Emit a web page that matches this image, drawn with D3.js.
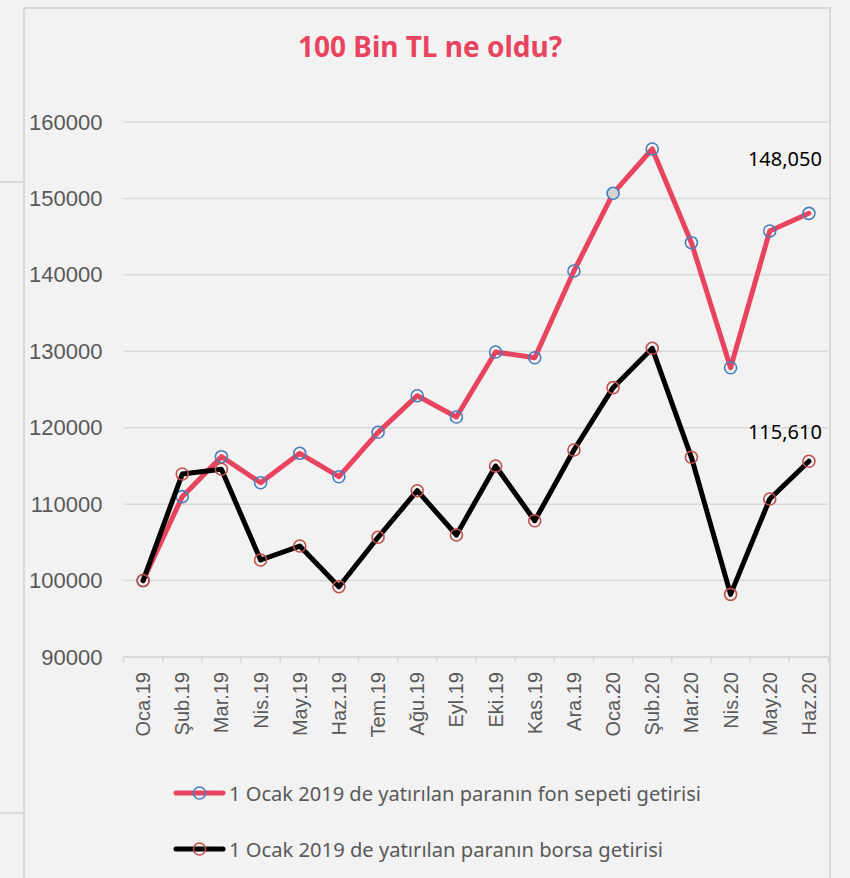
<!DOCTYPE html>
<html>
<head>
<meta charset="utf-8">
<script src="https://cdn.jsdelivr.net/npm/d3@7"></script>
<style>
  body { margin: 0; background: #f2f2f2; }
  svg { display: block; }
</style>
</head>
<body>
<svg id="chart" width="850" height="878"></svg>
<script>
// aylar (x ekseni)
var months = ["Oca.19", "Şub.19", "Mar.19", "Nis.19", "May.19", "Haz.19", "Tem.19", "Ağu.19", "Eyl.19",
              "Eki.19", "Kas.19", "Ara.19", "Oca.20", "Şub.20", "Mar.20", "Nis.20", "May.20", "Haz.20"];
// fon sepeti getirisi
var fundValues = [100000, 110980, 116210, 112800, 116650, 113590, 119400, 124190, 121400,
                  129900, 129160, 140500, 150670, 156470, 144210, 127850, 145740, 148050];
// borsa getirisi
var stockValues = [100000, 113940, 114560, 102690, 104520, 99200, 105660, 111760, 105960,
                   114990, 107830, 117080, 125240, 130390, 116130, 98200, 110670, 115610];
var yTicks = [90000, 100000, 110000, 120000, 130000, 140000, 150000, 160000];
var seriesNames = ["1 Ocak 2019 de yatırılan paranın fon sepeti getirisi",
                   "1 Ocak 2019 de yatırılan paranın borsa getirisi"];
var endLabels = ["148,050", "115,610"];

//sabitler
var plotLeft = 123.5, plotRight = 828.5, plotTop = 122, plotBottom = 657;
var pink = "#e8445f";

var svg = d3.select("#chart");

// dış çizgiler (tablo hücreleri)
svg.append("line").attr("x1", 0).attr("x2", 23).attr("y1", 182).attr("y2", 182)
    .attr("stroke", "#d9d9d9").attr("stroke-width", 2);
svg.append("line").attr("x1", 0).attr("x2", 23).attr("y1", 813).attr("y2", 813)
    .attr("stroke", "#d9d9d9").attr("stroke-width", 2);

// grafik çerçevesi
svg.append("rect")
    .attr("x", 24).attr("y", 8).attr("width", 806).attr("height", 900)
    .attr("fill", "#f2f2f2").attr("stroke", "#d9d9d9").attr("stroke-width", 2);

var x = d3.scaleBand().domain(months).range([plotLeft, plotRight]);
var y = d3.scaleLinear().domain([90000, 160000]).range([plotBottom, plotTop]);

// yatay ızgara
svg.append("g").selectAll("line").data(yTicks.slice(1)).enter().append("line")
    .attr("x1", plotLeft).attr("x2", plotRight)
    .attr("y1", function(d) { return y(d); })
    .attr("y2", function(d) { return y(d); })
    .attr("stroke", "#d9d9d9").attr("stroke-width", 1.5);

// y ekseni
var yAxis = svg.append("g")
    .attr("transform", "translate(" + (plotLeft - 21) + ",0)")
    .call(d3.axisLeft(y).tickValues(yTicks).tickSize(0).tickPadding(0).tickFormat(d3.format("d")));
yAxis.select(".domain").remove();
yAxis.selectAll("text")
    .attr("font-family", "Liberation Sans, Arial, sans-serif")
    .attr("font-size", "22px")
    .attr("fill", "#595959");

// x ekseni
svg.append("line").attr("x1", plotLeft).attr("x2", plotRight).attr("y1", plotBottom).attr("y2", plotBottom)
    .attr("stroke", "#d9d9d9").attr("stroke-width", 2);
var edges = months.map(function(m) { return x(m); }).concat([plotRight]);
svg.append("g").selectAll("line").data(edges).enter().append("line")
    .attr("x1", function(d) { return d; }).attr("x2", function(d) { return d; })
    .attr("y1", plotBottom).attr("y2", plotBottom + 6)
    .attr("stroke", "#d9d9d9").attr("stroke-width", 1.5);
svg.append("g").selectAll("text").data(months).enter().append("text")
    .attr("transform", function(d) {
        return "translate(" + (x(d) + x.bandwidth() / 2 + 7) + "," + (plotBottom + 15) + ") rotate(-90)";
    })
    .attr("text-anchor", "end")
    .attr("font-family", "Liberation Sans, Arial, sans-serif")
    .attr("font-size", "20px")
    .attr("fill", "#595959")
    .text(function(d) { return d; });

// başlık
svg.append("text")
    .attr("x", 430).attr("y", 57)
    .attr("text-anchor", "middle")
    .attr("font-family", "Noto Sans, sans-serif")
    .attr("font-weight", "bold")
    .attr("font-size", "29px")
    .attr("textLength", 264).attr("lengthAdjust", "spacingAndGlyphs")
    .attr("fill", pink)
    .text("100 Bin TL ne oldu?");

var cx = function(d, i) { return x(months[i]) + x.bandwidth() / 2; };
var line = d3.line().x(cx).y(function(d) { return y(d); });

function drawSeries(values, color, markerColor) {
    var g = svg.append("g");
    g.append("path").datum(values)
        .attr("d", line)
        .attr("fill", "none")
        .attr("stroke", color)
        .attr("stroke-width", 5)
        .attr("stroke-linejoin", "round")
        .attr("stroke-linecap", "round");
    g.selectAll("circle").data(values).enter().append("circle")
        .attr("cx", cx)
        .attr("cy", function(d) { return y(d); })
        .attr("r", 6)
        .attr("fill", "none")
        .attr("stroke", markerColor)
        .attr("stroke-width", 1.6);
    return g;
}

var fundG = drawSeries(fundValues, pink, "#4a7ebb");
// seçili nokta gri dolgu (Oca.20)
fundG.selectAll("circle").filter(function(d, i) { return i == 12; }).attr("fill", "#d4d4d4");
drawSeries(stockValues, "#000", "#c0504d");

// son değer etiketleri
var last = months.length - 1;
var labelDy = [-47, -22];
[fundValues, stockValues].forEach(function(vals, k) {
    svg.append("text")
        .attr("x", cx(null, last) + 13)
        .attr("y", y(vals[last]) + labelDy[k])
        .attr("text-anchor", "end")
        .attr("font-family", "Noto Sans, sans-serif")
        .attr("font-size", "20px")
        .attr("fill", "#000")
        .text(endLabels[k]);
});

// gösterge
var legendY = [793, 849];
var legendColors = [[pink, "#4a7ebb"], ["#000", "#c0504d"]];
var legendLen = [472, 434];
seriesNames.forEach(function(name, k) {
    var g = svg.append("g");
    g.append("line").attr("x1", 176).attr("x2", 223).attr("y1", legendY[k]).attr("y2", legendY[k])
        .attr("stroke", legendColors[k][0]).attr("stroke-width", 5).attr("stroke-linecap", "round");
    g.append("circle").attr("cx", 199.5).attr("cy", legendY[k]).attr("r", 6)
        .attr("fill", "none").attr("stroke", legendColors[k][1]).attr("stroke-width", 1.6);
    g.append("text").attr("x", 229).attr("y", legendY[k] + 8)
        .attr("font-family", "Noto Sans, sans-serif")
        .attr("font-size", "20px")
        .attr("textLength", legendLen[k]).attr("lengthAdjust", "spacingAndGlyphs")
        .attr("fill", "#595959")
        .text(name);
});
</script>
</body>
</html>
